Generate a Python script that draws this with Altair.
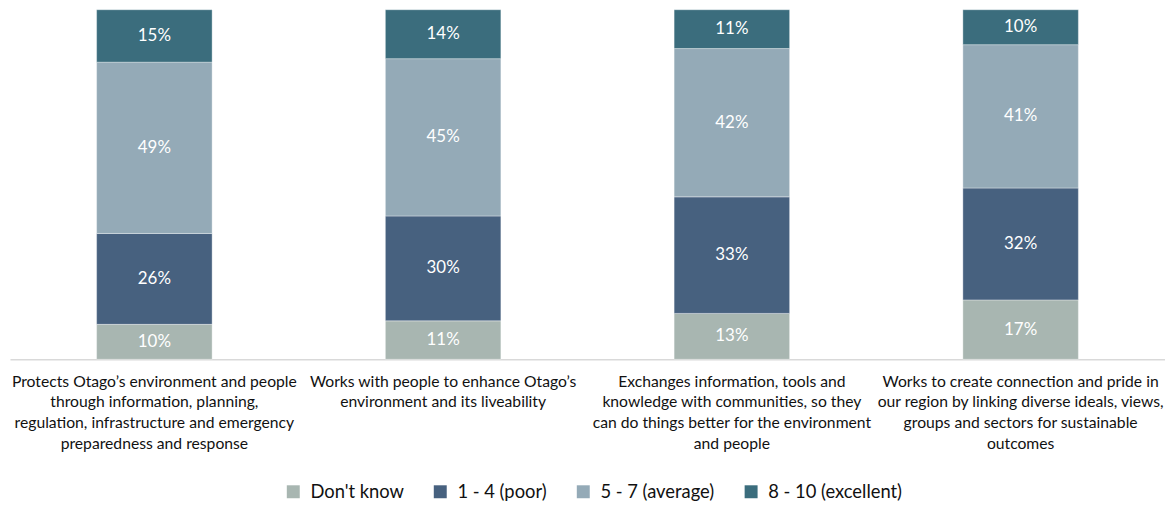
import json
import altair as alt
import pandas as pd

categories = [
    "Protects Otago’s environment and people through information, planning, regulation, infrastructure and emergency preparedness and response",
    "Works with people to enhance Otago’s environment and its liveability",
    "Exchanges information, tools and knowledge with communities, so they can do things better for the environment and people",
    "Works to create connection and pride in our region by linking diverse ideals, views, groups and sectors for sustainable outcomes",
]
label_lines = [
    ["Protects Otago’s environment and people", "through information, planning,",
     "regulation, infrastructure and emergency", "preparedness and response"],
    ["Works with people to enhance Otago’s", "environment and its liveability"],
    ["Exchanges information, tools and", "knowledge with communities, so they",
     "can do things better for the environment", "and people"],
    ["Works to create connection and pride in", "our region by linking diverse ideals, views,",
     "groups and sectors for sustainable", "outcomes"],
]
series = ["Don't know", "1 - 4 (poor)", "5 - 7 (average)", "8 - 10 (excellent)"]
colors = ["#a8b6b1", "#47617f", "#94aab7", "#3b6d7d"]

dont_know = [10, 11, 13, 17]
poor = [26, 30, 33, 32]
average = [49, 45, 42, 41]
excellent = [15, 14, 11, 10]

values = [dont_know, poor, average, excellent]
rows = []
for si, s in enumerate(series):
    for ci, c in enumerate(categories):
        rows.append({"cat": c, "series": s, "ord": si, "value": values[si][ci]})
df = pd.DataFrame(rows)

label_expr = (
    json.dumps(label_lines, ensure_ascii=False)
    + "[indexof(" + json.dumps(categories, ensure_ascii=False) + ", datum.value)]"
)

FONT = "Lato"

base = alt.Chart(df).transform_stack(
    stack="value", groupby=["cat"], as_=["y0", "y1"],
    sort=[alt.SortField("ord", order="ascending")], offset="normalize"
).transform_calculate(mid="(datum.y0 + datum.y1) / 2", lab="datum.value + '%'")

x = alt.X("cat:N", sort=categories, title=None,
          scale=alt.Scale(paddingInner=0.6, paddingOuter=0.3),
          axis=alt.Axis(labelExpr=label_expr, labelAngle=0, labelFontSize=15.8,
                        labelFont=FONT, labelColor="#111111", labelLineHeight=21,
                        labelPadding=15, labelBaseline="top", ticks=False,
                        domainColor="#d9d9d9", domainWidth=1.5, labelLimit=400))

bars = base.mark_bar(stroke="white", strokeWidth=0.6, strokeOpacity=0.6).encode(
    x=x,
    y=alt.Y("y0:Q", scale=alt.Scale(domain=[0, 1]), axis=None),
    y2="y1:Q",
    color=alt.Color("series:N", sort=series,
                    scale=alt.Scale(domain=series, range=colors),
                    legend=alt.Legend(title=None, orient="none", direction="horizontal",
                                      legendX=276, legendY=476, columns=4,
                                      symbolType="square", symbolSize=170,
                                      symbolStrokeWidth=0, labelFontSize=18.5,
                                      labelFont=FONT, labelColor="#111111",
                                      columnPadding=27, labelOffset=8)),
    order=alt.Order("ord:Q"),
)

labels = base.mark_text(color="white", fontSize=17, font=FONT).encode(
    x=alt.X("cat:N", sort=categories),
    y=alt.Y("mid:Q"),
    text="lab:N",
)

chart = (bars + labels).properties(
    width=1163, height=352,
    autosize=alt.AutoSizeParams(type="none"),
    padding={"left": 2, "top": 0, "right": 0, "bottom": 150},
).configure_view(stroke=None)

chart.save("out.html", embed_options={"renderer": "svg", "actions": False})
